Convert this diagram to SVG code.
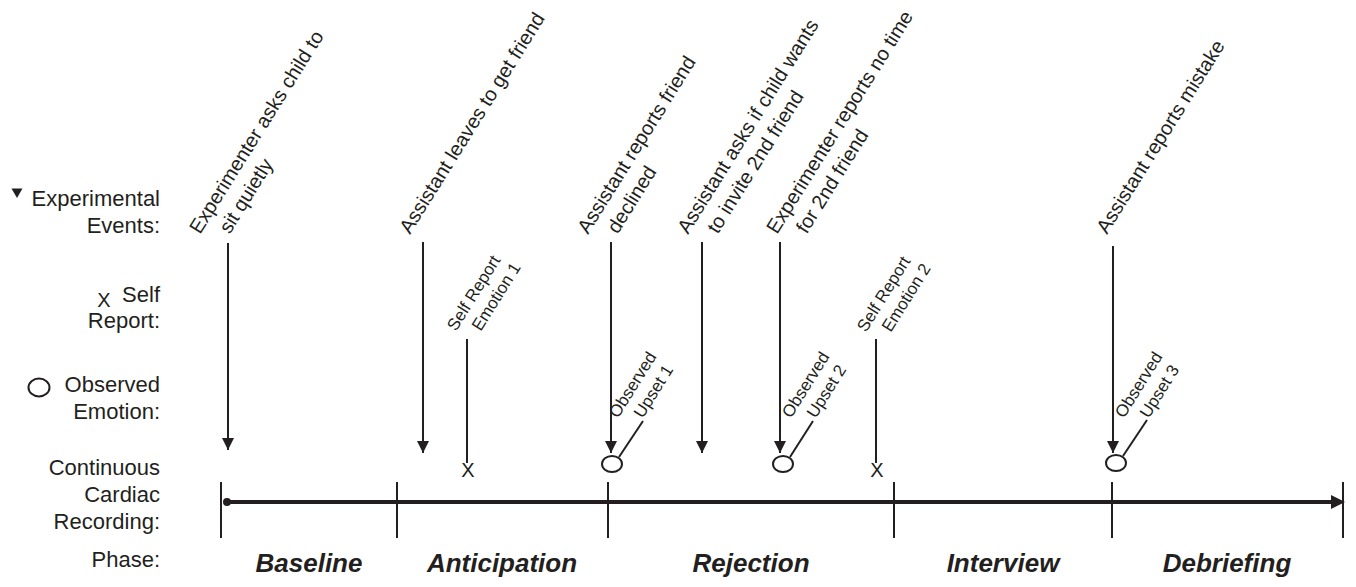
<svg xmlns="http://www.w3.org/2000/svg" width="1356" height="587" viewBox="0 0 1356 587">
<style>
text{font-family:"Liberation Sans",Arial,sans-serif;fill:#231f20}
.leg{font-size:22px;text-anchor:end}
.ev{font-size:20px}
.sm{font-size:17px}
.ph{font-size:26px;font-weight:bold;font-style:italic;text-anchor:middle}
.mk{font-size:20px;text-anchor:middle}
.ln{stroke:#231f20;stroke-width:2;fill:none}
.ar{stroke:#231f20;stroke-width:2;fill:none;marker-end:url(#ah)}
.ci{stroke:#231f20;stroke-width:2;fill:#fff}
</style>
<defs>
<marker id="ah" viewBox="0 0 12 12" refX="12" refY="6" markerWidth="6" markerHeight="6" markerUnits="strokeWidth" orient="auto">
<path d="M0,0 L12,6 L0,12 Z" fill="#231f20"/>
</marker>
</defs>
<rect width="1356" height="587" fill="#fff"/>
<g id="legend">
<path d="M11.5,188.5 L22.5,188.5 L17,198 Z" fill="#231f20"/>
<text class="leg" x="160" y="206">Experimental</text>
<text class="leg" x="160" y="233">Events:</text>
<text class="mk" x="104" y="307">X</text>
<text class="leg" x="160" y="302">Self</text>
<text class="leg" x="160" y="328">Report:</text>
<ellipse class="ci" cx="39" cy="387.5" rx="10.5" ry="9"/>
<text class="leg" x="160" y="392">Observed</text>
<text class="leg" x="160" y="419">Emotion:</text>
<text class="leg" x="160" y="475">Continuous</text>
<text class="leg" x="160" y="502">Cardiac</text>
<text class="leg" x="160" y="529">Recording:</text>
<text class="leg" x="160" y="567">Phase:</text>
</g>
<g id="timeline">
<line x1="227" y1="502" x2="1334" y2="502" stroke="#231f20" stroke-width="4"/>
<path d="M1331,495 L1345,502 L1331,509 Z" fill="#231f20"/>
<circle cx="227" cy="502" r="4" fill="#231f20"/>
<line class="ln" x1="221" y1="482" x2="221" y2="538"/>
<line class="ln" x1="397" y1="482" x2="397" y2="538"/>
<line class="ln" x1="608" y1="482" x2="608" y2="538"/>
<line class="ln" x1="894" y1="482" x2="894" y2="538"/>
<line class="ln" x1="1112" y1="482" x2="1112" y2="538"/>
<line class="ln" x1="1343" y1="482" x2="1343" y2="538"/>
</g>
<g id="phases">
<text class="ph" x="309" y="572">Baseline</text>
<text class="ph" x="502" y="572">Anticipation</text>
<text class="ph" x="751" y="572">Rejection</text>
<text class="ph" x="1003" y="572">Interview</text>
<text class="ph" x="1227" y="572">Debriefing</text>
</g>
<g id="connectors">
<line class="ar" x1="228" y1="243" x2="228" y2="450"/>
<line class="ar" x1="423" y1="242" x2="423" y2="453"/>
<line class="ar" x1="611" y1="242" x2="611" y2="453"/>
<line class="ar" x1="702" y1="242" x2="702" y2="453"/>
<line class="ar" x1="780" y1="242" x2="780" y2="453"/>
<line class="ar" x1="1113" y1="246" x2="1113" y2="453"/>
<line class="ln" x1="467" y1="339" x2="467" y2="463"/>
<line class="ln" x1="876" y1="339" x2="876" y2="463"/>
<line class="ln" x1="619" y1="457" x2="643" y2="421"/>
<line class="ln" x1="790" y1="457" x2="813" y2="421"/>
<line class="ln" x1="1123" y1="456" x2="1147" y2="420"/>
</g>
<g id="ev1" transform="translate(200,235) rotate(-58)">
<text class="ev" x="0" y="0">Experimenter asks child to</text>
<text class="ev" x="16" y="25">sit quietly</text>
</g>
<g id="ev2" transform="translate(410,235) rotate(-58)">
<text class="ev" x="0" y="0">Assistant leaves to get friend</text>
</g>
<g id="ev3" transform="translate(588,235) rotate(-58)">
<text class="ev" x="0" y="0">Assistant reports friend</text>
<text class="ev" x="16" y="25">declined</text>
</g>
<g id="ev4" transform="translate(688,235) rotate(-58)">
<text class="ev" x="0" y="0">Assistant asks if child wants</text>
<text class="ev" x="16" y="25">to invite 2nd friend</text>
</g>
<g id="ev5" transform="translate(777,235) rotate(-58)">
<text class="ev" x="0" y="0">Experimenter reports no time</text>
<text class="ev" x="16" y="25">for 2nd friend</text>
</g>
<g id="ev6" transform="translate(1107,235) rotate(-58)">
<text class="ev" x="0" y="0">Assistant reports mistake</text>
</g>
<g id="sr1">
<g transform="translate(456,332) rotate(-58)">
<text class="sm" x="0" y="0">Self Report</text>
<text class="sm" x="13" y="21">Emotion 1</text>
</g>
<text class="mk" x="468" y="477">X</text>
</g>
<g id="sr2">
<g transform="translate(866,333) rotate(-58)">
<text class="sm" x="0" y="0">Self Report</text>
<text class="sm" x="13" y="21">Emotion 2</text>
</g>
<text class="mk" x="877" y="477">X</text>
</g>
<g id="ob1">
<g transform="translate(618,419) rotate(-58)">
<text class="sm" x="0" y="0">Observed</text>
<text class="sm" x="13" y="21">Upset 1</text>
</g>
<ellipse class="ci" cx="612" cy="464" rx="10" ry="8"/>
</g>
<g id="ob2">
<g transform="translate(791,419) rotate(-58)">
<text class="sm" x="0" y="0">Observed</text>
<text class="sm" x="13" y="21">Upset 2</text>
</g>
<ellipse class="ci" cx="783" cy="464" rx="10" ry="8"/>
</g>
<g id="ob3">
<g transform="translate(1124,419) rotate(-58)">
<text class="sm" x="0" y="0">Observed</text>
<text class="sm" x="13" y="21">Upset 3</text>
</g>
<ellipse class="ci" cx="1116" cy="463" rx="10" ry="8"/>
</g>
</svg>
